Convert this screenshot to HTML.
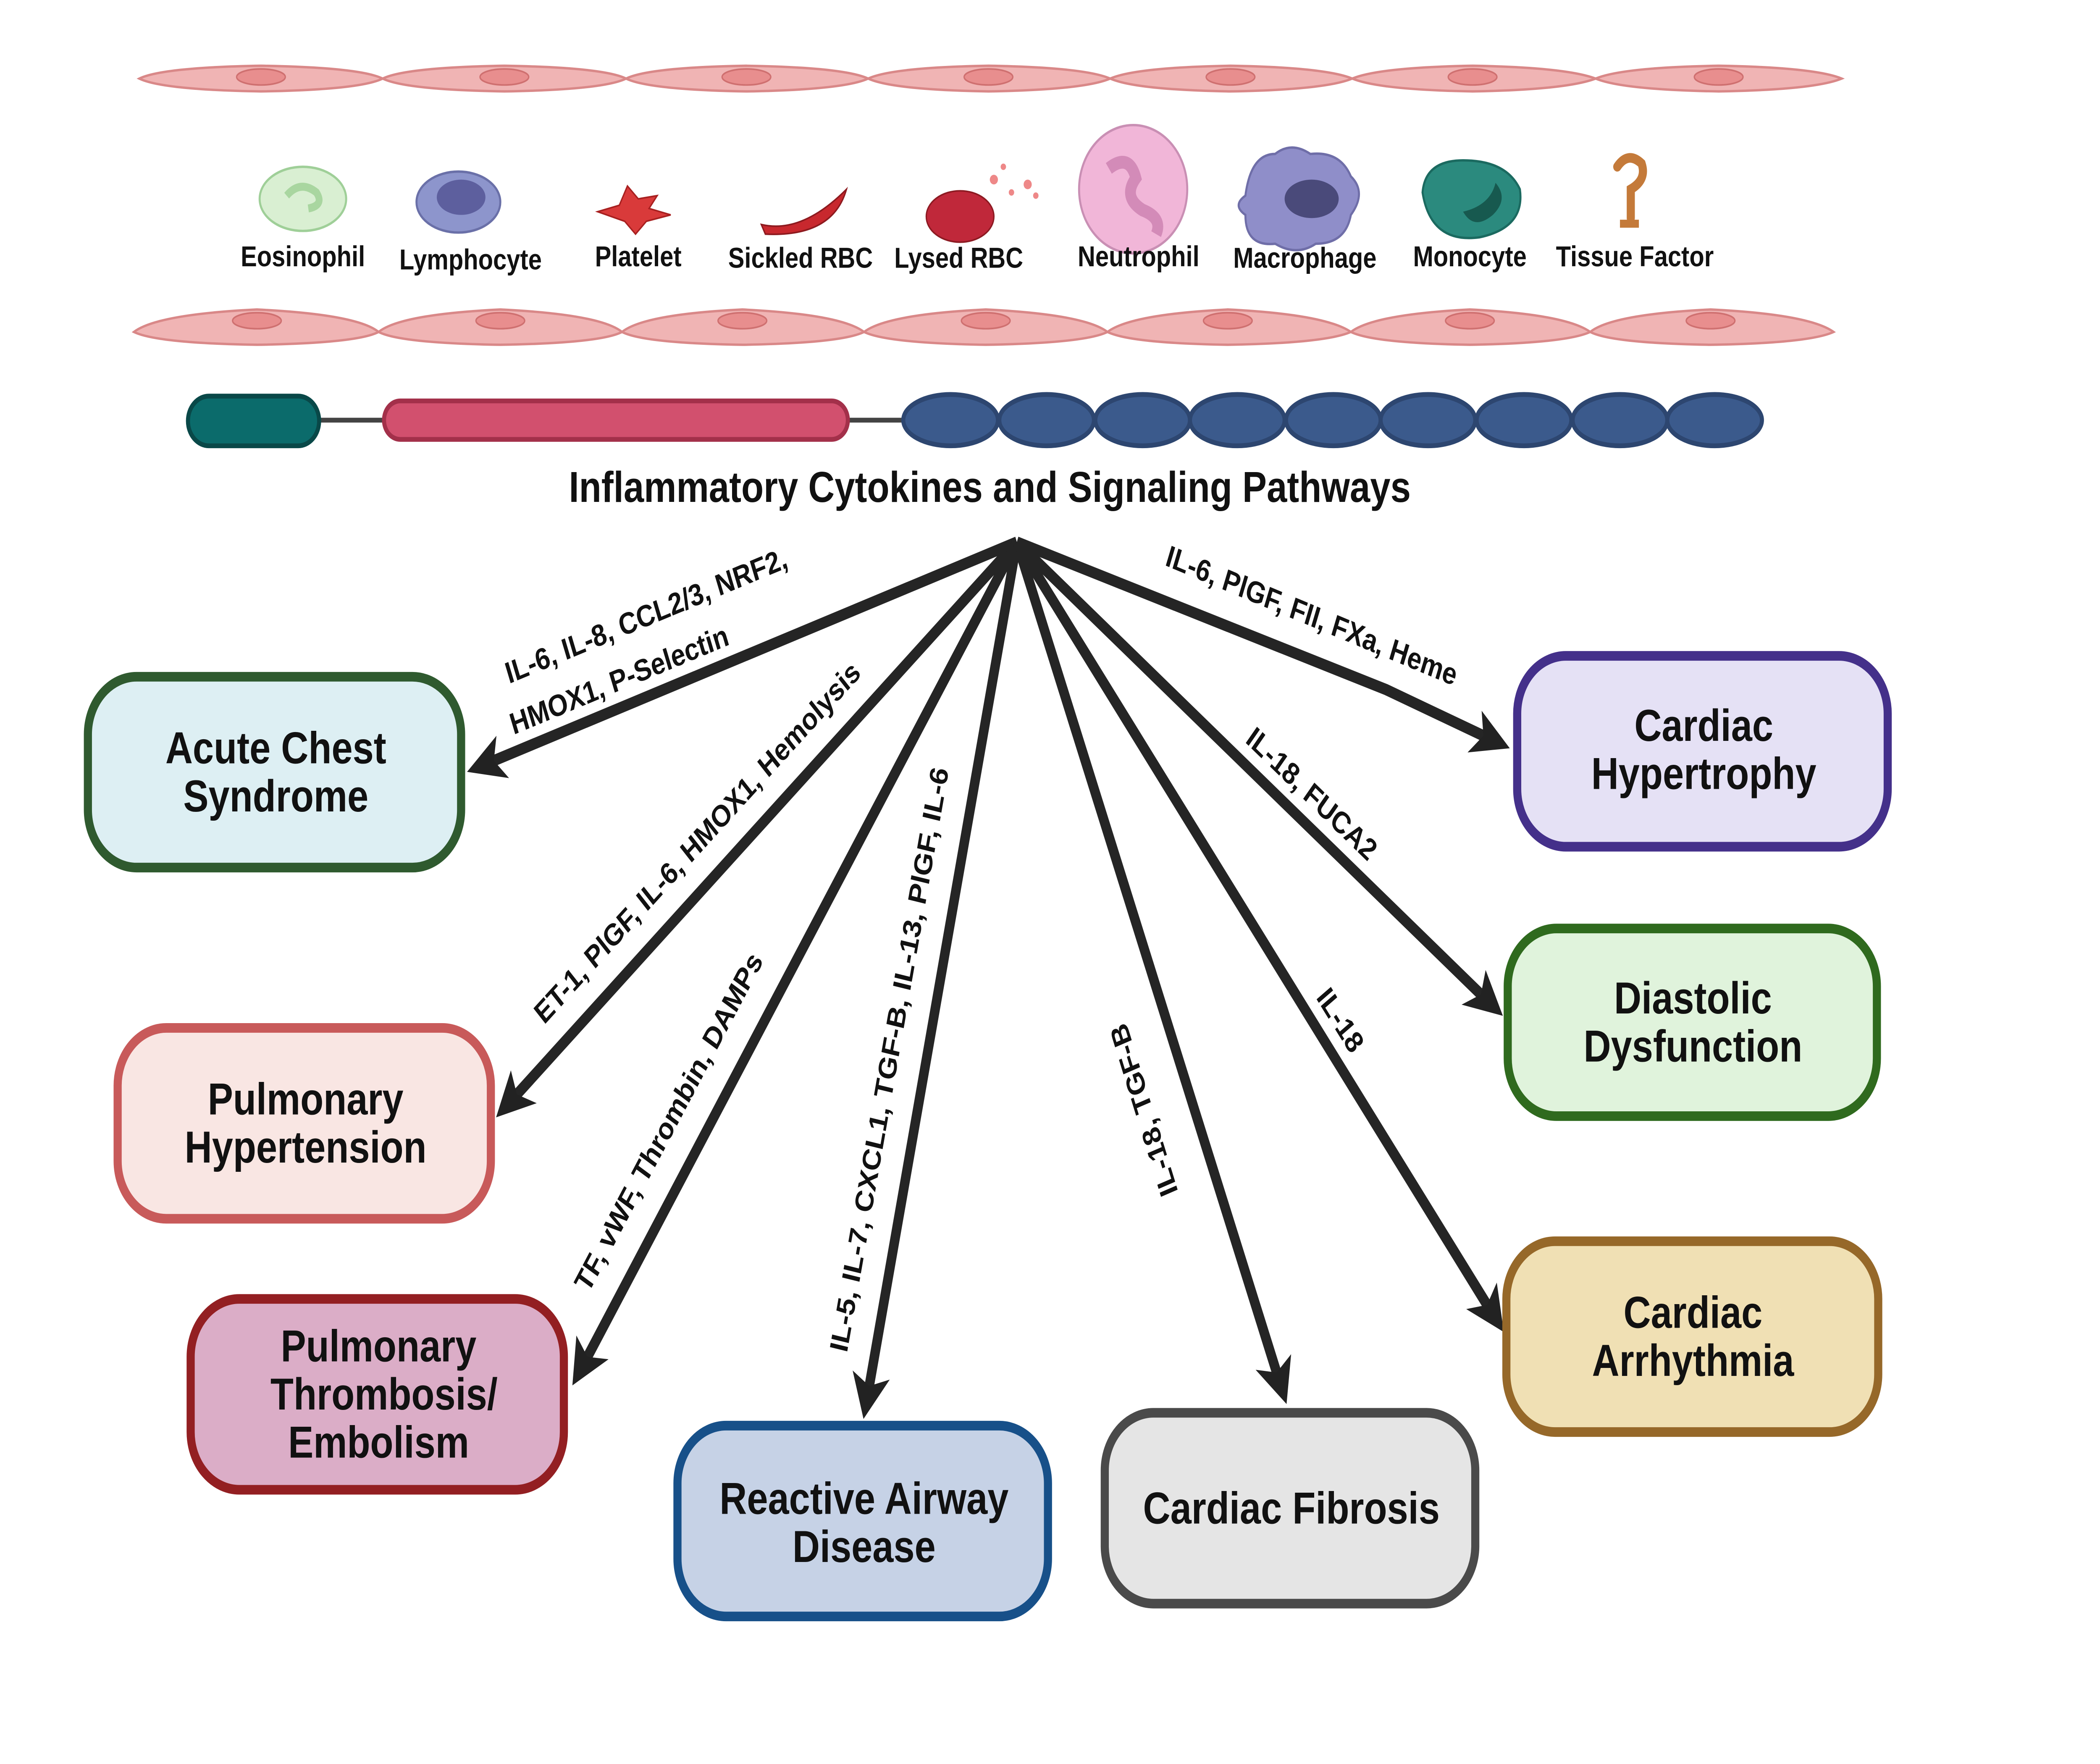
<!DOCTYPE html>
<html><head><meta charset="utf-8"><style>html,body{margin:0;padding:0;background:#fff;width:100%;height:100%;overflow:hidden}svg{display:block;position:fixed;left:0;top:0;width:100vw;height:100vh}</style></head><body>
<svg viewBox="0 0 1553 1100" preserveAspectRatio="none" xmlns="http://www.w3.org/2000/svg" font-family="Liberation Sans, sans-serif">
<defs>
<marker id="ah" markerWidth="4" markerHeight="4" refX="3" refY="2" orient="auto" markerUnits="strokeWidth"><path d="M0,0 L4,2 L0,4 L1,2 Z" fill="#222"/></marker>
</defs>
<rect width="1553" height="1100" fill="#fff"/>
<g fill="#f0b4b4" stroke="#d98888" stroke-width="1.5">
<path d="M103,49 Q120,42 193,41 Q266,42 283,49 Q266,56 193,57 Q120,56 103,49Z"/>
<path d="M283,49 Q300,42 373,41 Q446,42 463,49 Q446,56 373,57 Q300,56 283,49Z"/>
<path d="M463,49 Q480,42 552,41 Q624,42 642,49 Q624,56 552,57 Q480,56 463,49Z"/>
<path d="M642,49 Q660,42 731,41 Q802,42 821,49 Q802,56 731,57 Q660,56 642,49Z"/>
<path d="M821,49 Q840,42 910,41 Q980,42 1000,49 Q980,56 910,57 Q840,56 821,49Z"/>
<path d="M1000,49 Q1020,42 1089,41 Q1158,42 1180,49 Q1158,56 1089,57 Q1020,56 1000,49Z"/>
<path d="M1180,49 Q1200,42 1271,41 Q1342,42 1362,49 Q1342,56 1271,57 Q1200,56 1180,49Z"/>
<path d="M99,207 Q116,196 190,193 Q264,196 280,207 Q264,214 190,215 Q116,214 99,207Z"/>
<path d="M280,207 Q296,196 370,193 Q444,196 460,207 Q444,214 370,215 Q296,214 280,207Z"/>
<path d="M460,207 Q476,196 549,193 Q622,196 639,207 Q622,214 549,215 Q476,214 460,207Z"/>
<path d="M639,207 Q656,196 729,193 Q802,196 819,207 Q802,214 729,215 Q656,214 639,207Z"/>
<path d="M819,207 Q836,196 908,193 Q980,196 999,207 Q980,214 908,215 Q836,214 819,207Z"/>
<path d="M999,207 Q1016,196 1087,193 Q1158,196 1176,207 Q1158,214 1087,215 Q1016,214 999,207Z"/>
<path d="M1176,207 Q1192,196 1265,193 Q1338,196 1356,207 Q1338,214 1265,215 Q1192,214 1176,207Z"/>
</g>
<g fill="#e88e8e" stroke="#cf7070" stroke-width="1">
<ellipse cx="193" cy="48" rx="18" ry="5"/>
<ellipse cx="373" cy="48" rx="18" ry="5"/><ellipse cx="552" cy="48" rx="18" ry="5"/><ellipse cx="731" cy="48" rx="18" ry="5"/><ellipse cx="910" cy="48" rx="18" ry="5"/><ellipse cx="1089" cy="48" rx="18" ry="5"/><ellipse cx="1271" cy="48" rx="18" ry="5"/>
<ellipse cx="190" cy="200" rx="18" ry="5"/><ellipse cx="370" cy="200" rx="18" ry="5"/><ellipse cx="549" cy="200" rx="18" ry="5"/><ellipse cx="729" cy="200" rx="18" ry="5"/><ellipse cx="908" cy="200" rx="18" ry="5"/><ellipse cx="1087" cy="200" rx="18" ry="5"/><ellipse cx="1265" cy="200" rx="18" ry="5"/>
</g>
<ellipse cx="224" cy="124" rx="32" ry="20" fill="#d9efd2" stroke="#9fcf98" stroke-width="1.5"/>
<path d="M212,122 q10,-10 22,-2 q6,8 -6,10" fill="none" stroke="#a9d6a0" stroke-width="5"/>
<ellipse cx="339" cy="126" rx="31" ry="19" fill="#8d95cc" stroke="#6a70a8" stroke-width="1.5"/>
<ellipse cx="341" cy="123" rx="18" ry="11" fill="#5d5f9e"/>
<path d="M442,132 l16,-4 l6,-12 l8,8 l14,-2 l-6,8 l16,4 l-18,4 l-8,8 l-8,-8 z" fill="#d93a3a" stroke="#a82020"/>
<path d="M563,140 q30,6 63,-22 q-10,30 -60,28 z" fill="#c8282e" stroke="#8d1a1f"/>
<ellipse cx="710" cy="135" rx="25" ry="16" fill="#c0283a" stroke="#8d1a22"/>
<g fill="#e88"><circle cx="735" cy="112" r="3"/><circle cx="748" cy="120" r="2"/><circle cx="760" cy="115" r="3"/><circle cx="742" cy="104" r="2"/><circle cx="766" cy="122" r="2"/></g>
<circle cx="838" cy="118" r="40" fill="#f1b6d8" stroke="#c98fb4" stroke-width="1.5"/>
<path d="M820,105 q15,-10 20,6 q-10,12 5,20 q15,5 10,15" fill="none" stroke="#d38bb8" stroke-width="8"/>
<path d="M921,122 q4,-26 22,-26 q12,-8 26,0 q22,-2 30,14 q12,10 0,24 q-4,18 -26,18 q-14,8 -30,0 q-22,2 -22,-18 q-10,-6 0,-12z" fill="#8f8ec9" stroke="#6f6ea8" stroke-width="1.5"/>
<ellipse cx="970" cy="124" rx="20" ry="12" fill="#4a4a7a"/>
<path d="M1052,120 q2,-20 30,-20 q32,0 42,18 q4,24 -30,30 q-36,4 -42,-28z" fill="#2b8a7e" stroke="#1b6a60" stroke-width="1.5"/>
<path d="M1082,132 q20,-4 24,-18 q10,10 -2,20 q-14,10 -22,-2z" fill="#17594f"/>
<path d="M1196,104 q8,-10 18,-2 q4,10 -8,16 l0,18" fill="none" stroke="#c47a3a" stroke-width="6" stroke-linecap="round"/>
<rect x="1198" y="137" width="14" height="5" fill="#c47a3a"/>
<g font-size="18" font-weight="bold" fill="#111" text-anchor="middle">
<text x="224" y="166">Eosinophil</text><text x="348" y="168">Lymphocyte</text><text x="472" y="166">Platelet</text><text x="592" y="167">Sickled RBC</text><text x="709" y="167">Lysed RBC</text><text x="842" y="166">Neutrophil</text><text x="965" y="167">Macrophage</text><text x="1087" y="166">Monocyte</text><text x="1209" y="166">Tissue Factor</text>
</g>
<line x1="230" y1="262" x2="290" y2="262" stroke="#444" stroke-width="3"/>
<line x1="620" y1="262" x2="672" y2="262" stroke="#444" stroke-width="3"/>
<rect x="139" y="247" width="97" height="31" rx="15.5" fill="#0b6b6b" stroke="#094848" stroke-width="3"/>
<rect x="284" y="250" width="343" height="24" rx="12" fill="#d2506e" stroke="#a3304a" stroke-width="3"/>
<g fill="#3b5a8c" stroke="#2d4670" stroke-width="3">
<ellipse cx="703" cy="262" rx="35" ry="16"/><ellipse cx="774" cy="262" rx="35" ry="16"/><ellipse cx="845" cy="262" rx="35" ry="16"/><ellipse cx="915" cy="262" rx="35" ry="16"/><ellipse cx="986" cy="262" rx="35" ry="16"/><ellipse cx="1056" cy="262" rx="35" ry="16"/><ellipse cx="1127" cy="262" rx="35" ry="16"/><ellipse cx="1198" cy="262" rx="35" ry="16"/><ellipse cx="1268" cy="262" rx="35" ry="16"/>
</g>
<text x="732" y="313" font-size="27" font-weight="bold" text-anchor="middle" fill="#111">Inflammatory Cytokines and Signaling Pathways</text>
<g stroke="#252525" stroke-width="7" fill="none" marker-end="url(#ah)">
<line x1="752" y1="338" x2="352" y2="479"/>
<line x1="752" y1="338" x2="372" y2="692"/>
<line x1="752" y1="338" x2="427" y2="858"/>
<line x1="752" y1="338" x2="640" y2="878"/>
<line x1="752" y1="338" x2="949" y2="869"/>
<line x1="752" y1="338" x2="1108" y2="825"/>
<line x1="752" y1="338" x2="1106" y2="629"/>
<polyline points="752,338 1025,430 1110,464"/>
</g>
<g font-size="19" font-weight="bold" fill="#111" text-anchor="middle">
<text transform="translate(480,390) rotate(-19.4)">IL-6, IL-8, CCL2/3, NRF2,</text>
<text transform="translate(460,430) rotate(-19.4)">HMOX1, P-Selectin</text>
<text transform="translate(520,530) rotate(-42.9)">ET-1, PlGF, IL-6, HMOX1, Hemolysis</text>
<text transform="translate(500,703) rotate(-58)">TF, vWF, Thrombin, DAMPs</text>
<text transform="translate(664,662) rotate(-78.3)">IL-5, IL-7, CXCL1, TGF-B, IL-13, PlGF, IL-6</text>
<text transform="translate(852,690) rotate(-110)">IL-18, TGF-B</text>
<text transform="translate(986,640) rotate(53.8)">IL-18</text>
<text transform="translate(966,500) rotate(39.4)">IL-18, FUCA2</text>
<text transform="translate(968,390) rotate(19.4)">IL-6, PlGF, FII, FXa, Heme</text>
</g>
<g stroke-width="6">
<rect x="65" y="422" width="276" height="119" rx="36" fill="#ddeff3" stroke="#2f5a2f"/>
<rect x="87" y="641" width="276" height="119" rx="36" fill="#f9e6e3" stroke="#c85a5a"/>
<rect x="141" y="810" width="276" height="119" rx="36" fill="#dbadc7" stroke="#931f22"/>
<rect x="501" y="889" width="274" height="119" rx="36" fill="#c6d2e6" stroke="#175089"/>
<rect x="817" y="881" width="274" height="119" rx="36" fill="#e5e5e5" stroke="#4a4a4a"/>
<rect x="1114" y="774" width="275" height="119" rx="36" fill="#f0e0b4" stroke="#966829"/>
<rect x="1115" y="579" width="273" height="117" rx="36" fill="#e0f3dc" stroke="#2f6a1e"/>
<rect x="1122" y="409" width="274" height="119" rx="36" fill="#e5e1f5" stroke="#44308a"/>
</g>
<g font-size="28" font-weight="bold" fill="#111" text-anchor="middle">
<text x="204" y="476">Acute Chest</text><text x="204" y="506">Syndrome</text>
<text x="226" y="695">Pulmonary</text><text x="226" y="725">Hypertension</text>
<text x="280" y="849">Pulmonary</text><text x="284" y="879">Thrombosis/</text><text x="280" y="909">Embolism</text>
<text x="639" y="944">Reactive Airway</text><text x="639" y="974">Disease</text>
<text x="955" y="950">Cardiac Fibrosis</text>
<text x="1252" y="828">Cardiac</text><text x="1252" y="858">Arrhythmia</text>
<text x="1252" y="632">Diastolic</text><text x="1252" y="662">Dysfunction</text>
<text x="1260" y="462">Cardiac</text><text x="1260" y="492">Hypertrophy</text>
</g>
</svg>
</body></html>
